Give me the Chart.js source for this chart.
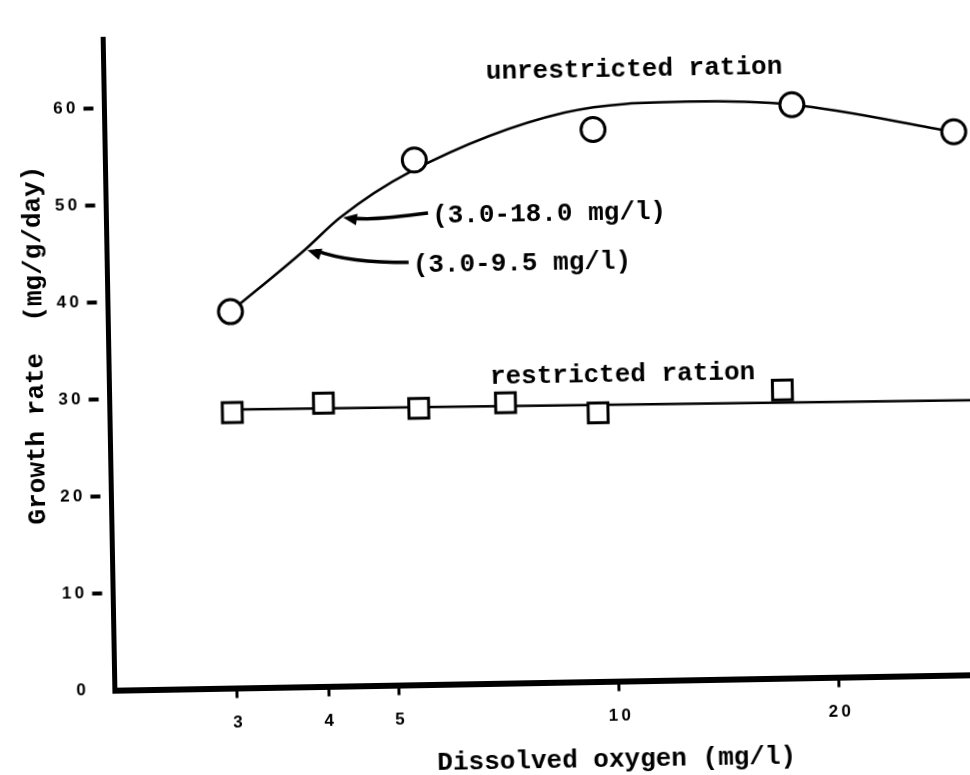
<!DOCTYPE html>
<html>
<head>
<meta charset="utf-8">
<title>Growth rate vs dissolved oxygen</title>
<script src="https://cdn.jsdelivr.net/npm/chart.js@4.4.1/dist/chart.umd.min.js"></script>
<style>
  html, body { margin: 0; padding: 0; background: #fff; overflow: hidden; }
  /* the plate sits a little askew on the page */
  #wrap { position: absolute; left: 0; top: 0; width: 1000px; height: 790px;
          transform: rotate(-1.03deg); transform-origin: 485px 387px; }
</style>
</head>
<body>
<div id="wrap"><canvas id="growth" width="1000" height="790"></canvas></div>
<script>
// dissolved oxygen (mg/l) against growth rate (mg/g/day)
const unrestrictedO2 = [3.0, 5.4, 9.5, 17.8, 29.6];
const unrestrictedGrowth = [38.8, 54.1, 56.9, 59.1, 56.0];
const restrictedO2 = [3.0, 4.0, 5.4, 7.1, 9.5, 17.0];
const restrictedGrowth = [28.4, 29.2, 28.5, 28.9, 27.7, 29.7];

// fitted lines
const unrestrictedFitO2 = [3.0, 3.8, 4.26, 5.3, 8.7, 12.8, 17.8, 29.6];
const unrestrictedFitGrowth = [38.8, 45.0, 48.3, 52.8, 58.7, 59.6, 59.1, 56.0];
const restrictedFitO2 = [3.0, 32];
const restrictedFitGrowth = [28.7, 28.3];

const xTicks = [3, 4, 5, 10, 20];
const yTicks = [0, 10, 20, 30, 40, 50, 60];

const TYPE = 'bold 26px "Liberation Mono", "DejaVu Sans Mono", monospace';
const TICK_FONT = { family: '"Liberation Sans", "DejaVu Sans", sans-serif', size: 17, weight: 'bold' };

const pts = (xs, ys) => xs.map((v, i) => ({ x: v, y: ys[i] }));
// typewriter numerals are set with a gap between the digits
const spaced = v => String(v).split('').join('\u2009');

// arrows: head sits on the fitted curve, tail and bend are offsets in px
const arrows = [
  { at: [4.26, 48.3], tail: [85, -3], bend: [25, 4], text: '(3.0-18.0 mg/l)' },
  { at: [3.8, 45.0], tail: [101, 14], bend: [42, 14], text: '(3.0-9.5 mg/l)' }
];

const notes = {
  id: 'notes',
  afterDatasetsDraw(chart) {
    const { ctx, scales: { x, y } } = chart;
    ctx.save();
    ctx.fillStyle = '#000';
    ctx.strokeStyle = '#000';
    ctx.font = TYPE;
    ctx.textBaseline = 'middle';
    ctx.textAlign = 'left';

    ctx.fillText('unrestricted ration', x.getPixelForValue(6.8), y.getPixelForValue(63.0));
    ctx.fillText('restricted ration', x.getPixelForValue(6.77), y.getPixelForValue(31.6));

    arrows.forEach(a => {
      const hx = x.getPixelForValue(a.at[0]) + 3, hy = y.getPixelForValue(a.at[1]);
      const tx = hx + a.tail[0], ty = hy + a.tail[1];
      const cx = hx + a.bend[0], cy = hy + a.bend[1];
      ctx.lineWidth = 3.5;
      ctx.beginPath();
      ctx.moveTo(tx, ty);
      ctx.quadraticCurveTo(cx, cy, hx + 8, hy + 0.5);
      ctx.stroke();
      // arrow head
      const ang = Math.atan2(hy - cy, hx - cx);
      ctx.beginPath();
      ctx.moveTo(hx, hy);
      ctx.lineTo(hx - 15 * Math.cos(ang - 0.4), hy - 15 * Math.sin(ang - 0.4));
      ctx.lineTo(hx - 15 * Math.cos(ang + 0.4), hy - 15 * Math.sin(ang + 0.4));
      ctx.closePath();
      ctx.fill();
      ctx.fillText(a.text, tx + 4, ty + 3);
    });

    // axis titles
    ctx.textAlign = 'center';
    ctx.fillText('Dissolved oxygen (mg/l)', 610, 762);
    ctx.translate(36, 337);
    ctx.rotate(-Math.PI / 2);
    ctx.fillText('Growth rate  (mg/g/day)', 0, 0);
    ctx.restore();
  }
};

new Chart(document.getElementById('growth'), {
  type: 'scatter',
  data: {
    datasets: [
      {
        data: pts(unrestrictedO2, unrestrictedGrowth),
        pointStyle: 'circle', pointRadius: 12, borderWidth: 3,
        borderColor: '#000', backgroundColor: '#fff', order: 1
      },
      {
        data: pts(restrictedO2, restrictedGrowth),
        pointStyle: 'rect', pointRadius: 14, borderWidth: 3,
        borderColor: '#000', backgroundColor: '#fff', order: 1
      },
      {
        data: pts(unrestrictedFitO2, unrestrictedFitGrowth),
        showLine: true, pointRadius: 0, borderWidth: 2.5, borderColor: '#000',
        cubicInterpolationMode: 'monotone', order: 2
      },
      {
        data: pts(restrictedFitO2, restrictedFitGrowth),
        showLine: true, pointRadius: 0, borderWidth: 2.5, borderColor: '#000', order: 2
      }
    ]
  },
  options: {
    responsive: false,
    animation: false,
    devicePixelRatio: 1,
    layout: { padding: { top: 32.6, right: 8.3, left: 0, bottom: 0 } },
    plugins: { legend: { display: false }, tooltip: { enabled: false } },
    scales: {
      x: {
        type: 'logarithmic',
        min: 2.04,
        max: 32,
        afterFit: s => { s.height = 106.5; },
        afterBuildTicks: s => { s.ticks = xTicks.map(v => ({ value: v })); },
        border: { color: '#000', width: 6 },
        grid: { drawOnChartArea: false, color: '#000', tickLength: 10, tickWidth: 3 },
        ticks: { autoSkip: false, maxRotation: 0, padding: 15, color: '#000', font: TICK_FONT,
                 callback: v => spaced(v) }
      },
      y: {
        min: 0,
        max: 67.1,
        afterFit: s => { s.width = 109.5; },
        afterBuildTicks: s => { s.ticks = yTicks.map(v => ({ value: v })); },
        border: { color: '#000', width: 5 },
        grid: {
          drawOnChartArea: false, tickLength: 21, tickWidth: 4, tickBorderDash: [10, 40],
          tickColor: c => (c.tick && c.tick.value === 0 ? 'rgba(0,0,0,0)' : '#000')
        },
        ticks: { padding: 8, color: '#000', font: TICK_FONT, callback: v => spaced(v) }
      }
    }
  },
  plugins: [notes]
});
</script>
</body>
</html>
